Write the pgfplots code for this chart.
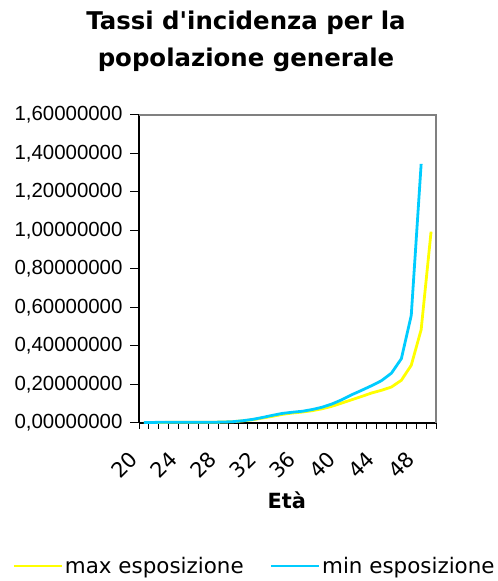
\documentclass[border=0pt]{standalone}
\usepackage{fontspec}
\setmainfont{DejaVu Sans}[Ligatures=TeXOff]
\newfontfamily\arial{Liberation Sans}
\usepackage{pgfplots}
\pgfplotsset{compat=1.18}
\definecolor{cyanline}{HTML}{00CCFF}
\definecolor{yelline}{HTML}{FFFF00}
\definecolor{frameg}{HTML}{808080}
\begin{document}
\begin{tikzpicture}[x=1bp,y=1bp]
\useasboundingbox (0,0) rectangle (498,581);
\node[align=center,font=\bfseries\fontsize{24.5}{37}\selectfont] at (246,540) {Tassi d'incidenza per la\\popolazione generale};
\begin{axis}[
  at={(139bp,158bp)}, anchor=south west,
  width=297bp, height=308bp, scale only axis,
  xmin=19.5, xmax=49.5, ymin=0, ymax=1.6,
  axis x line*=bottom, axis y line*=left,
  axis line style={black,line width=1.3bp,-},
  xtick={20,24,...,48},
  major x tick style={draw=none},
  minor xtick={19.5,20.5,...,49.5},
  minor x tick style={black,line width=1bp},
  minor tick length=6bp,
  ytick={0,0.2,...,1.6},
  major y tick style={black,line width=1bp},
  major tick length=9bp,
  tick align=outside,
  x tick label style={xshift=-16bp,yshift=-13bp,rotate=45,anchor=north east,font=\fontsize{21}{21}\selectfont},
  y tick label style={xshift=-4bp,font=\arial\fontsize{20.5}{20.5}\selectfont},
  yticklabel style={/pgf/number format/.cd,fixed,fixed zerofill,precision=8,use comma,1000 sep={},assume math mode=true},
  xticklabel style={/pgf/number format/.cd,assume math mode=true},
  xlabel={\bfseries Età},
  x label style={at={(axis description cs:0.498,-0.25)},anchor=center,font=\bfseries\fontsize{21}{21}\selectfont},
  legend columns=2,
  legend style={at={(axis description cs:0.389,-0.464)},anchor=center,draw=none,fill=none,
    font=\fontsize{21.5}{21.5}\selectfont,/tikz/every even column/.append style={column sep=24bp},
    /tikz/every odd column/.append style={column sep=0bp}},
  legend image code/.code={\draw[#1,line width=2.5bp] (0bp,0bp) -- (48bp,0bp);},
  after end axis/.code={\draw[frameg,line width=2.6bp] (rel axis cs:0,1) -- (rel axis cs:1,1) -- (rel axis cs:1,0);},
  clip=false,
]
\addplot[yelline,line width=2.8bp] coordinates {
(20,0.003)(21,0.003)(22,0.003)(23,0.004)(24,0.004)(25,0.004)(26,0.004)(27,0.004)(28,0.005)(29,0.007)
(30,0.011)(31,0.017)(32,0.026)(33,0.035)(34,0.045)(35,0.052)(36,0.057)(37,0.064)(38,0.074)(39,0.087)
(40,0.104)(41,0.121)(42,0.138)(43,0.156)(44,0.170)(45,0.187)(46,0.222)(47,0.300)(48,0.485)(49,0.994)
};
\addlegendentry{max esposizione}
\addplot[cyanline,line width=2.8bp] coordinates {
(20,0.003)(21,0.003)(22,0.004)(23,0.004)(24,0.004)(25,0.004)(26,0.004)(27,0.004)(28,0.005)(29,0.007)
(30,0.012)(31,0.019)(32,0.029)(33,0.040)(34,0.050)(35,0.056)(36,0.061)(37,0.070)(38,0.082)(39,0.099)
(40,0.121)(41,0.147)(42,0.170)(43,0.194)(44,0.220)(45,0.259)(46,0.334)(47,0.559)(48,1.346)
};
\addlegendentry{min esposizione}
\end{axis}
\end{tikzpicture}
\end{document}
